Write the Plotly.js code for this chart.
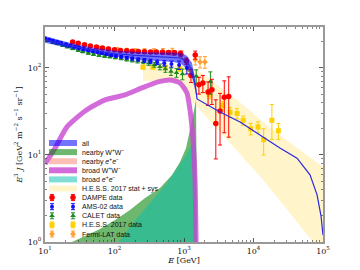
<!DOCTYPE html>
<html><head><meta charset="utf-8">
<script src="https://cdn.plot.ly/plotly-3.0.1.min.js"></script>
<style>html,body{margin:0;padding:0;background:#fff}#chart{width:360px;height:270px}</style>
</head><body><div id="chart"></div>
<script>
// ---------- model curves ----------
const allBandE  = [10, 20, 30, 50, 100, 200, 400, 700, 900, 1100, 1300, 1450, 1540];
const allBandLo = [195, 172, 160, 147, 135, 126, 120, 117, 112, 98, 78, 55, 44];
const allBandHi = [232, 200, 185, 170, 158, 153, 150, 150, 148, 138, 115, 75, 46];
const allLineE  = [10, 20, 30, 50, 100, 200, 400, 700, 900, 1100, 1300, 1450, 1540, 3300, 6400, 13700, 24000, 42300, 65000, 82000, 93600, 100000];
const allLineV  = [212, 185, 172, 158, 146, 139, 135, 133, 130, 118, 95, 64, 44, 31.2, 23.9, 16.1, 12.0, 9.2, 5.9, 3.5, 2.0, 1.2];

const nearWWE = [24.4, 37.7, 61.8, 102, 167, 275, 452, 672, 876, 1070, 1260, 1490, 1540];
const nearWWV = [1.0, 1.17, 1.41, 1.79, 2.33, 3.2, 4.18, 5.89, 8.3, 12.0, 22.1, 42.9, 1.0];

const broadEEE = [112, 120, 185, 324, 569, 968, 1440, 1540];
const broadEEV = [1.0, 1.05, 1.65, 2.8, 4.77, 8.8, 14.9, 1.0];

const broadWWE = [10, 13.9, 20.7, 37.7, 73, 142, 249, 423, 630, 876, 1100, 1220, 1350, 1440, 1490];
const broadWWV = [7.9, 11.9, 21, 32, 42.9, 49, 58.9, 69, 72.8, 67.2, 51.7, 32.9, 14.9, 5.2, 1.0];

const hessBandUpE = [257, 1220, 1700, 5800, 19000, 100000];
const hessBandUpV = [111, 105, 90, 42.9, 19.4, 7.3];
const hessBandLoE = [257, 820, 1140, 3640, 13700, 71800, 100000];
const hessBandLoV = [71, 69, 46.4, 17.0, 5.2, 1.0, 0.7];

// ---------- data ----------
const dampeE = [25, 30, 37, 45, 55, 67, 82, 100, 122, 150, 180, 220, 270, 330, 400, 490, 600, 730, 890, 1080, 1260, 1450, 1640, 1870, 2220, 2520, 2870, 3300, 3800, 4400];
const dampeV = [199, 192, 185, 179, 174, 169, 165, 162, 159, 157, 155, 154, 153, 152, 152, 151, 150, 149, 146, 120, 82, 141, 64, 67, 53, 56, 23, 32, 46, 47];
const dampeUp = [4, 4, 4, 4, 4, 4, 4, 4, 4, 4, 4, 4, 5, 5, 5, 6, 7, 8, 10, 10, 14, 15, 14, 15, 16, 18, 20, 19, 25, 32];
const dampeDn = [4, 4, 4, 4, 4, 4, 4, 4, 4, 4, 4, 4, 5, 5, 5, 6, 7, 8, 10, 10, 14, 15, 14, 15, 16, 18, 14, 19, 28, 31];

const amsE = [10, 11.5, 13, 15, 17, 20, 23, 27, 31, 36, 42, 49, 57, 66, 77, 90, 105, 125, 150, 180, 220, 270, 330, 410, 520, 660, 850, 1100];
const amsV = [218, 211, 205, 199, 193, 187, 181, 175, 170, 165, 160, 156, 152, 148, 144, 140, 137, 134, 131, 128, 125, 122, 119, 116, 113, 111, 108, 100];
const amsErr = [4, 4, 4, 4, 4, 4, 4, 4, 4, 4, 4, 4, 4, 4, 4, 4, 4, 4, 4, 5, 5, 6, 7, 7, 8, 9, 12, 15];

const calE = [11, 13, 15, 18, 21, 25, 30, 35, 42, 50, 60, 72, 86, 103, 125, 150, 180, 215, 260, 310, 375, 450, 540, 650, 780, 950, 1500, 2400];
const calV = [205, 196, 189, 181, 174, 166, 159, 153, 147, 143, 139, 136, 134, 131, 128, 125, 122, 120, 118, 114, 109, 103, 97, 91, 88, 85, 80, 70];
const calErr = [4, 4, 4, 4, 4, 4, 4, 4, 4, 4, 4, 4, 4, 4, 4, 5, 5, 6, 6, 7, 7, 8, 8, 9, 10, 12, 15, 20];

const hessE = [257, 357, 535, 870, 1150, 2300, 3600, 4600, 5800, 7100, 9100, 11600, 14000, 18400, 22800];
const hessV = [102, 102, 102, 97, 97, 49, 37, 31, 30, 25, 20, 21, 15, 25, 19];
const hessUp = [5, 5, 5, 5, 5, 5, 4, 4, 4, 3, 3, 3, 5, 13, 4];
const hessDn = [5, 5, 5, 5, 5, 5, 4, 4, 4, 3, 3, 3, 5, 10, 4];

const fermiE = [60, 80, 110, 150, 200, 270, 370, 500, 680, 930, 1450, 1700, 2000];
const fermiV = [170, 166, 163, 160, 158, 157, 156, 155, 154, 142, 124, 117, 117];
const fermiErr = [6, 6, 7, 7, 8, 9, 10, 12, 14, 15, 16, 17, 18];

// ---------- labels ----------
const bandLabels = ['all', 'nearby W<sup>+</sup>W<sup>−</sup>', 'nearby <i>e</i><sup>+</sup><i>e</i><sup>−</sup>',
  'broad W<sup>+</sup>W<sup>−</sup>', 'broad <i>e</i><sup>+</sup><i>e</i><sup>−</sup>', 'H.E.S.S. 2017 stat + sys'];
const dataLabels = ['DAMPE data', 'AMS-02 data', 'CALET data', 'H.E.S.S. 2017 data', 'Fermi-LAT data'];
const xTickVals = [10, 100, 1000, 10000, 100000];
const xTickText = ['10<sup>1</sup>', '10<sup>2</sup>', '10<sup>3</sup>', '10<sup>4</sup>', '10<sup>5</sup>'];
const yTickVals = [1, 10, 100];
const yTickText = ['10<sup>0</sup>', '10<sup>1</sup>', '10<sup>2</sup>'];

// ---------- styles ----------
const C = {
  all: 'rgba(0,0,255,0.55)', nearWW: 'rgba(0,128,0,0.57)', nearEE: 'rgba(250,128,114,0.5)',
  broadWW: 'rgba(200,70,210,0.8)', broadEE: 'rgba(0,192,176,0.5)', hess: 'rgba(255,220,80,0.3)',
  dampe: '#ff0000', ams: '#1010ff', calet: '#1e8a1e', hessD: '#ffd000', fermi: '#ffa030'
};
const bandColors = [C.all, C.nearWW, C.nearEE, C.broadWW, C.broadEE, C.hess];
const dataStyles = [
  {c: C.dampe, s: 'circle', z: 5.5}, {c: C.ams, s: 'circle', z: 4},
  {c: C.calet, s: 'triangle-up', z: 5}, {c: C.hessD, s: 'square', z: 5}, {c: C.fermi, s: 'diamond', z: 4.5}
];

const rev = a => a.slice().reverse();
const traces = [];
// HESS band
traces.push({x: hessBandUpE.concat(rev(hessBandLoE)), y: hessBandUpV.concat(rev(hessBandLoV)),
  type: 'scatter', mode: 'none', fill: 'toself', fillcolor: C.hess, hoverinfo: 'skip'});
// nearby WW
traces.push({x: nearWWE, y: nearWWV, type: 'scatter', mode: 'none', fill: 'toself', fillcolor: C.nearWW});
// broad ee
traces.push({x: broadEEE, y: broadEEV, type: 'scatter', mode: 'lines', fill: 'toself', fillcolor: C.broadEE,
  line: {width: 0, color: C.broadEE}});
// broad WW
traces.push({x: broadWWE, y: broadWWV, type: 'scatter', mode: 'lines', line: {color: C.broadWW, width: 5, shape: 'spline', smoothing: 0.6}});

function dataTrace(E, V, up, dn, st) {
  return {x: E, y: V, type: 'scatter', mode: 'markers',
    marker: {color: st.c, symbol: st.s, size: st.z, line: {width: 0}},
    error_y: {type: 'data', symmetric: false, array: up, arrayminus: dn, color: st.c, thickness: 1, width: 2}};
}
traces.push(dataTrace(hessE, hessV, hessUp, hessDn, dataStyles[3]));
traces.push(dataTrace(calE, calV, calErr, calErr, dataStyles[2]));
traces.push(dataTrace(amsE, amsV, amsErr, amsErr, dataStyles[1]));
traces.push(dataTrace(fermiE, fermiV, fermiErr, fermiErr, dataStyles[4]));
traces.push(dataTrace(dampeE, dampeV, dampeUp, dampeDn, dataStyles[0]));
// all band + line
traces.push({x: allBandE.concat(rev(allBandE)), y: allBandHi.concat(rev(allBandLo)),
  type: 'scatter', mode: 'none', fill: 'toself', fillcolor: C.all});
traces.push({x: allLineE, y: allLineV, type: 'scatter', mode: 'lines', line: {color: '#2a2ae0', width: 1.2}});

// ---------- manual legend (overlay pixel axes) ----------
const shapes = [], annotations = [];
const rowY0 = 143, rowDy = 9.1;
bandLabels.forEach((lab, i) => {
  const y = rowY0 + i * rowDy;
  shapes.push({type: 'rect', xref: 'x2', yref: 'y2', x0: 49, x1: 77, y0: y - 3, y1: y + 3,
    fillcolor: bandColors[i], line: {width: 0}, layer: 'above'});
  annotations.push({xref: 'x2', yref: 'y2', x: 80, y: y, text: lab, showarrow: false,
    xanchor: 'left', yanchor: 'middle', font: {family: 'Liberation Sans, Arial, sans-serif', size: 7, color: '#111'}});
});
dataLabels.forEach((lab, j) => {
  const i = bandLabels.length + j;
  const y = rowY0 + i * rowDy;
  const st = dataStyles[j];
  traces.push({x: [52, 73], y: [y, y], xaxis: 'x2', yaxis: 'y2', type: 'scatter', mode: 'markers',
    marker: {color: st.c, symbol: st.s, size: st.z, line: {width: 0}},
    error_y: {type: 'constant', value: 3, color: st.c, thickness: 1, width: 2}});
  annotations.push({xref: 'x2', yref: 'y2', x: 80, y: y, text: lab, showarrow: false,
    xanchor: 'left', yanchor: 'middle', font: {family: 'Liberation Sans, Arial, sans-serif', size: 7, color: '#111'}});
});

function minorVals(lo, hi) {
  const v = [];
  for (let d = lo; d < hi; d++) for (let k = 2; k <= 9; k++) v.push(k * Math.pow(10, d));
  return v;
}
const serif = 'DejaVu Serif, serif';
const axisCommon = {
  type: 'log', showgrid: false, zeroline: false, showline: true, linecolor: '#999', linewidth: 2,
  mirror: 'ticks', ticks: 'inside', ticklen: 4, tickwidth: 0.8, tickcolor: '#333',
  tickfont: {family: serif, size: 8, color: '#111'}, tickmode: 'array'
};
const layout = {
  width: 360, height: 270, margin: {l: 45, r: 37, t: 27, b: 28},
  paper_bgcolor: '#fff', plot_bgcolor: '#fff', showlegend: false,
  xaxis: Object.assign({}, axisCommon, {range: [1, 5], tickvals: xTickVals, ticktext: xTickText,
    minor: {tickmode: 'array', tickvals: minorVals(1, 5), ticks: 'inside', ticklen: 2, tickwidth: 0.6, tickcolor: '#333', showgrid: false},
    title: {text: '<i>E</i> [GeV]', font: {family: serif, size: 8, color: '#111'}, standoff: 2}}),
  yaxis: Object.assign({}, axisCommon, {range: [0, 2.47], tickvals: yTickVals, ticktext: yTickText,
    minor: {tickmode: 'array', tickvals: minorVals(0, 3).filter(v => v < 295), ticks: 'inside', ticklen: 2, tickwidth: 0.6, tickcolor: '#333', showgrid: false},
    title: {text: '<i>E</i><sup>3</sup> <i>J</i> [GeV<sup>2</sup> m<sup>−2</sup> s<sup>−1</sup> sr<sup>−1</sup>]', font: {family: serif, size: 8, color: '#111'}, standoff: 4}}),
  xaxis2: {overlaying: 'x', range: [45, 323], visible: false, fixedrange: true},
  yaxis2: {overlaying: 'y', range: [242, 27], visible: false, fixedrange: true},
  shapes: shapes, annotations: annotations
};
traces.forEach(t => { t.showlegend = false; t.hoverinfo = 'skip'; });
Plotly.newPlot('chart', traces, layout, {displayModeBar: false, staticPlot: true});
</script></body></html>
